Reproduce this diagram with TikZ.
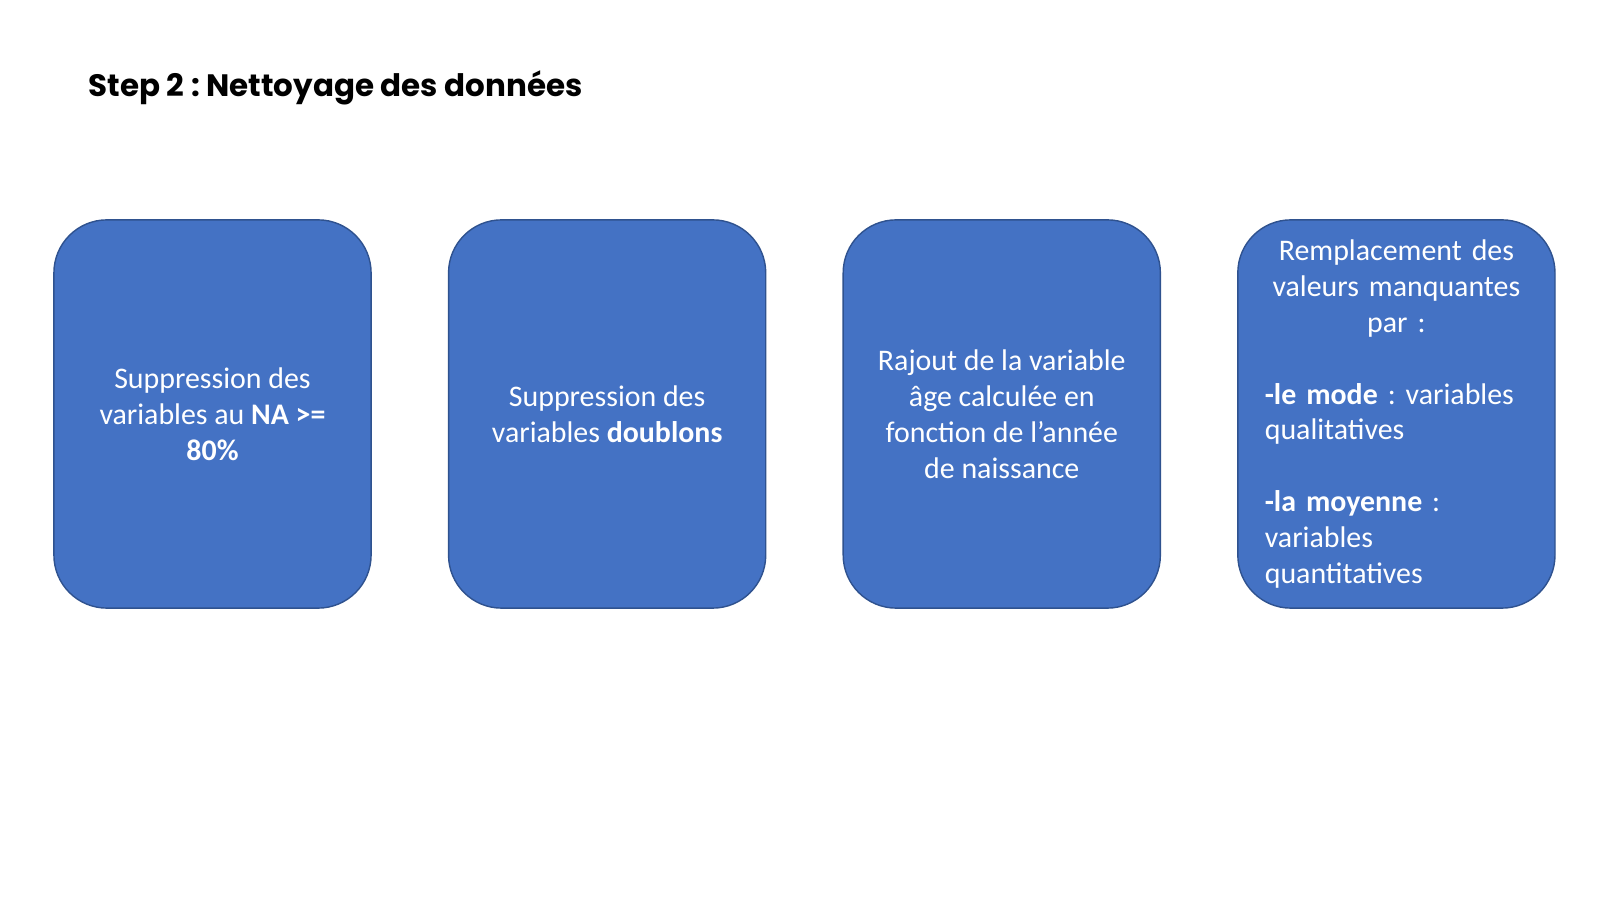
\documentclass[tikz,border=0pt]{standalone}
\usepackage{fontspec}
\setmainfont{Carlito}
\newfontfamily\titlefont{Poppins}
\usetikzlibrary{positioning}
\definecolor{boxblue}{HTML}{4472C4}
\definecolor{boxedge}{HTML}{2F528F}
\frenchspacing

\begin{document}
\begin{tikzpicture}[x=0.01cm,y=0.01cm]

\tikzstyle{boite}=[draw=boxedge,line width=0.4pt,fill=boxblue,text=white,
  rounded corners=0.53cm,minimum width=3.17cm,minimum height=3.88cm,
  inner sep=0pt,font=\fontsize{8.5}{10.2}\selectfont]
\tikzstyle{etape}=[boite,align=center]
\tikzstyle{etapelong}=[boite,text width=2.63cm,align=left]

  \useasboundingbox (0,0) rectangle (1600,900);

  \node[anchor=base west,inner sep=0pt,font=\titlefont\bfseries\fontsize{8.8}{10}\selectfont]
   (titre) at (88,803) {Step 2 : Nettoyage des donn\'ees};

  \node[etape] (b1) at (212.5,486)
   {Suppression des\\ variables au \textbf{NA >=}\\ \textbf{80\%}};
  \node[etape,right=0.76cm of b1] (b2)
   {Suppression des\\ variables \textbf{doublons}};
  \node[etape,right=0.76cm of b2] (b3)
   {Rajout de la variable\\ âge calculée en\\ fonction de l’année\\ de naissance};
  \node[etapelong,right=0.76cm of b3] (b4)
   {\makebox[2.63cm]{Remplacement des}\\ \makebox[2.63cm]{valeurs manquantes}\\
    \makebox[2.63cm]{par :}\\[\baselineskip]
    \textbf{-le mode} : variables\\ qualitatives\\[\baselineskip]
    \textbf{-la moyenne} :\\ variables\\ quantitatives};
\end{tikzpicture}
\end{document}
